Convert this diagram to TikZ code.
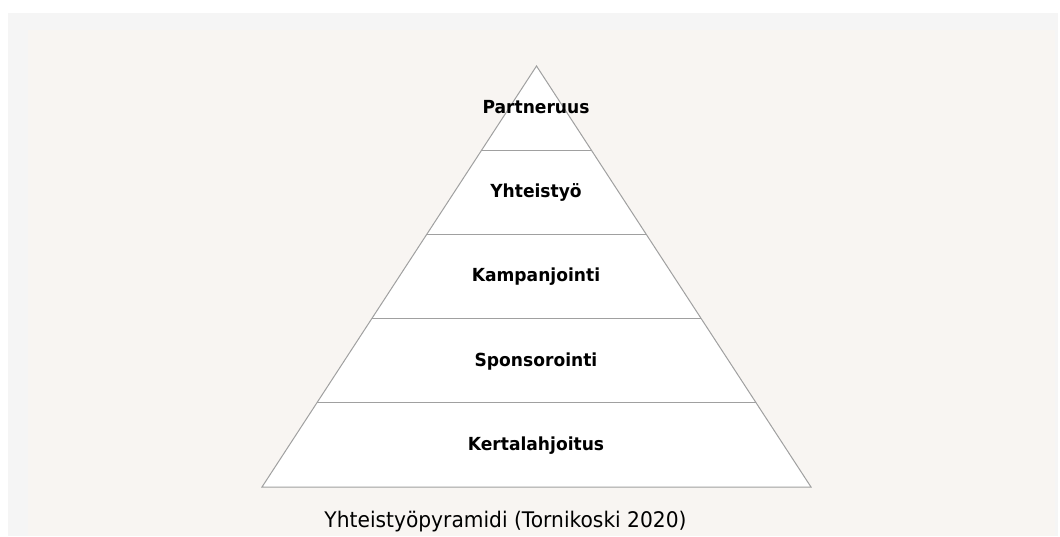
\documentclass[tikz,border=0pt]{standalone}
\usepackage{fontspec}
\usetikzlibrary{calc}
\setmainfont{DejaVu Sans}
\newfontfamily\lblfont{DejaVu Sans}[FakeStretch=0.95]
\newfontfamily\capfont{DejaVu Sans}[FakeStretch=0.94]
\definecolor{panelbg}{HTML}{F8F5F2}
\definecolor{shadowbg}{HTML}{F5F5F5}
\definecolor{edgegray}{HTML}{A0A0A0}
\tikzset{
  level/.style={font=\lblfont\bfseries\fontsize{18}{21}\selectfont, text=black, inner sep=0pt},
  caption/.style={font=\capfont\fontsize{21.5}{25}\selectfont, text=black, inner sep=0pt},
  edge/.style={draw=edgegray, line width=1pt}
}
\begin{document}
\begin{tikzpicture}[x=1pt,y=-1pt]
\useasboundingbox (0,0) rectangle (1060,536);
\fill[white] (0,0) rectangle (1060,536);
\fill[shadowbg] (8,13) rectangle (1058,536);
\fill[panelbg] (28,30) rectangle (1055,536);
% pyramid corners
\coordinate (apex) at (536.5,66);
\coordinate (bl) at (262,487);
\coordinate (br) at (811,487);
\fill[white] (apex) -- (bl) -- (br) -- cycle;
% dividing line end points
\coordinate (al) at ($(apex)!0.19952!(bl)$);
\coordinate (ar) at ($(apex)!0.19952!(br)$);
\coordinate (bl2) at ($(apex)!0.39905!(bl)$);
\coordinate (br2) at ($(apex)!0.39905!(br)$);
\coordinate (cl) at ($(apex)!0.59857!(bl)$);
\coordinate (cr) at ($(apex)!0.59857!(br)$);
\coordinate (dl) at ($(apex)!0.79810!(bl)$);
\coordinate (dr) at ($(apex)!0.79810!(br)$);
\draw[edge] (al) -- (ar);
\draw[edge] (bl2) -- (br2);
\draw[edge] (cl) -- (cr);
\draw[edge] (dl) -- (dr);
\draw[edge, line join=miter] (apex) -- (bl) -- (br) -- cycle;
% labels
\node[level] (partneruus) at (536,107.5) {Partneruus};
\node[level] (yhteistyo) at (536,192.5) {Yhteistyö};
\node[level] (kampanjointi) at (536,277) {Kampanjointi};
\node[level] (sponsorointi) at (536,361.5) {Sponsorointi};
\node[level] (kertalahjoitus) at (536,446) {Kertalahjoitus};
\node[caption] (caption) at (505.5,521.5) {Yhteistyöpyramidi (Tornikoski 2020)};
\end{tikzpicture}
\end{document}
